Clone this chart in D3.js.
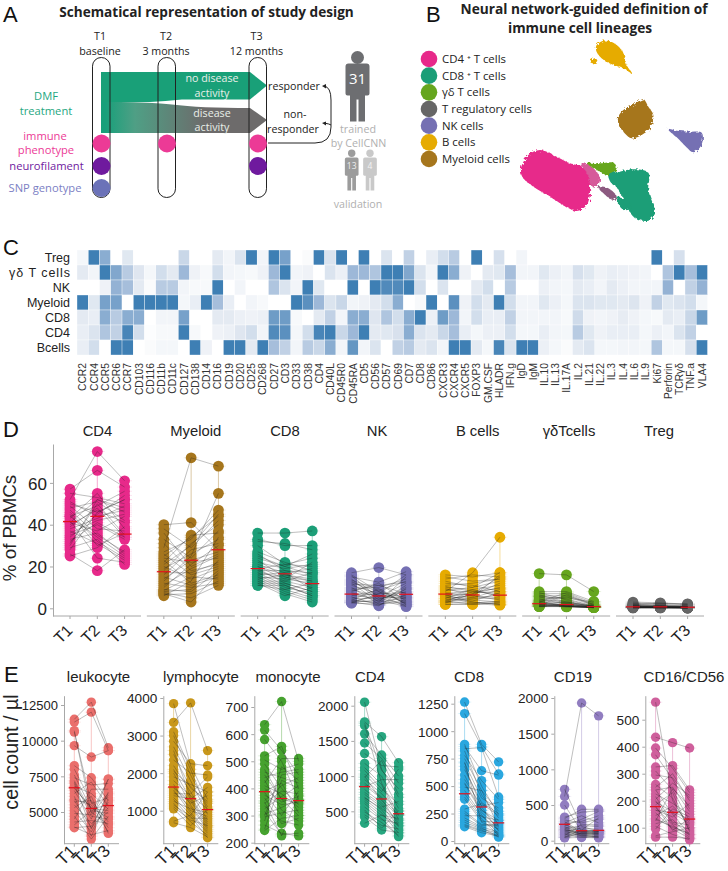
<!DOCTYPE html>
<html><head><meta charset="utf-8">
<script src="https://cdn.jsdelivr.net/npm/d3@7/dist/d3.min.js"></script>
<style>html,body{margin:0;padding:0;background:#fff}svg{display:block}</style>
</head><body><svg id="c" width="728" height="871"></svg>
<script>
// ---------- heatmap data (panel C)
const markers=["CCR2","CCR4","CCR5","CCR6","CCR7","CD103","CD116","CD11b","CD11c","CD127","CD138","CD14","CD16","CD19","CD20","CD25","CD268","CD27","CD3","CD33","CD38","CD4","CD40L","CD45R0","CD45RA","CD5","CD56","CD57","CD69","CD7","CD8","CD86","CXCR3","CXCR4","CXCR5","FOXP3","GM.CSF","HLADR","IFN.g","IgD","IgM","IL.10","IL.13","IL.17A","IL.2","IL.21","IL.22","IL.3","IL.4","IL.6","IL.9","Ki67","Perforin","TCRγδ","TNF.a","VLA4"];
const rowNames=["Treg","γδ T cells","NK","Myeloid","CD8","CD4","Bcells"];
const hTreg=[.04,1,.6,0,.12,0,0,0,0,.25,0,0,.1,.05,.15,1,.05,1,.7,0,.02,1,.15,1,0,1,0,.15,0,.3,0,.08,.2,.35,0,1,0,.18,0,.05,0,0,0,0,0,0,0,0,0,0,0,1,0,.18,0,0];
const hGD=[.1,.05,1,.65,.35,.13,.04,.2,.1,.5,.06,.03,.2,.05,.04,.03,.06,.5,1,.05,.06,0,.15,.07,.5,.5,.4,1,1,.65,.15,.05,1,.6,.06,0,.1,.12,.45,.05,.05,.12,.07,.05,.18,.12,.06,.08,.07,.06,.05,0,.4,1,.45,1];
const hNK=[0,0,.06,.55,.45,.1,.02,.35,.35,.05,.03,.03,1,0,.05,0,0,.4,.15,.05,1,.12,0,0,1,0,1,.9,.9,1,.2,0,.15,0,0,.1,.2,0,.35,0,0,.07,.05,.04,.1,.08,.05,.1,.07,.05,.05,.05,.55,0,.3,.55];
const hMye=[1,.12,.7,.7,0,1,1,1,1,.04,.08,1,.45,.08,0,.05,.03,0,0,1,.85,.5,.15,.25,.05,.06,.1,.2,.6,0,.03,1,0,.85,.06,.2,.1,1,.2,.05,.05,.12,.07,.04,.15,.15,.12,.12,.1,.14,.06,.3,.12,.15,.2,.04];
const hCD8=[.1,.08,.6,.35,.6,.6,0,.05,.05,.7,0,0,.1,.1,.07,.06,.07,.75,.75,.03,0,.1,.3,.05,.6,.6,.13,.4,.2,.6,1,.07,.75,.5,.05,.2,.08,.08,.3,.05,.05,.05,.05,.03,.22,.06,.05,.06,.09,.06,.04,.03,.1,.08,.25,.75];
const hCD4=[.08,.15,.4,.3,.95,.2,.01,.03,.03,1,.03,0,.06,.07,.13,.2,.05,.9,.85,.04,.2,.95,1,.25,.5,1,.1,.12,.17,.6,.15,.1,.25,.45,.08,.04,.07,.07,.2,.04,.04,.08,.05,.04,.35,.12,.06,.08,.08,.08,.04,.07,.05,.15,.3,0];
const hB=[.08,.2,0,1,1,0,.02,.04,.04,0,1,.06,0,1,1,.1,1,.45,.3,.05,.35,.25,.6,.05,.8,.05,.15,0,.3,.35,.1,.15,.05,1,1,.1,.04,.95,.15,1,1,.07,.04,.02,.1,.15,.04,.04,.05,.05,.04,.4,.04,.04,.18,1];
// ---------- panel D: % of PBMCs, [T1,T2,T3], one entry per patient
const pctCD4=[[57,52,55,48,51,44,47,41,45,39,50,36,43,46,34,42,31,38,33,40,29,35,26,37,30,49,25,44,32,28,41],[66,75,53,51,44,49,35,52,30,48,46,42,55,32,45,24,50,43,36,47,33,40,18,31,52,38,29,34,41,46,37],[58,61,50,42,47,56,27,48,36,34,52,45,38,24,54,22,35,49,26,41,21,33,28,23,46,37,39,25,34,52,44]];
const pctMye=[[38,40,36,33,31,29,27,26,25,24,23,21,20,19,18,17,16,15,14,13,12,11,10,9,8.5,8,7.5,7,6,6.5,22],[29,41,20,24,18,72,33,16,34,22,12,30,14,26,31,17,28,11,23,25,10,19,21,8,15,9,5,3,13,7,35],[42,28,26,37,21,68,47,20,44,24,16,45,19,33,40,22,31,15,27,55,12,25,30,18,14,23,11,17,34,13,36]];
const pctCD8=[[36,33,32,30,27,26,24,23,22,21,20,20,19,19,18,18,17,17,16,16,15,15,14,14,13,13,12,12,11,11,25],[36,30,31,21,22,18,20,15,19,17,16,14,21,12,18,13,15,11,17,10,14,9,16,8,13,7,12,6,11,9,20],[37,30,28,20,18,17,16,13,21,9,14,12,24,8,15,10,11,6,19,7,22,5,13,4,17,3,8,10,6,12,26]];
const pctNK=[[17,16,15.5,15,14,13.5,13,12,11.5,11,10,9.5,9,8,7.5,7,6.5,6,5.5,5,4.5,4,3.8,3.5,3.2,3,2.8,2.6,2.5,8.5,12.5],[19.5,8,5,12.5,4,9,6,3,11,7,2,10,5.5,12,3.5,6.5,4.5,8.5,1.5,7.5,5,2.5,9.5,3,6,1.2,4,7,2,11,8],[16,3,1.5,17.5,9,2,6,5,7,16,4,14,12,3.5,10,1,8,13,6.5,2.5,5.5,11,1.8,15,4.5,9.5,.8,7.5,3,12.5,5]];
const pctB=[[16,15,14,13,12,10.5,10,9.5,9,8.5,8,7.5,7,7,6.5,6,6,5.5,5,4.8,4.5,4,3.8,3.5,3.2,3,2.8,2.5,2,1.8,11],[15,13,16,10,11,8,9,6,7.5,10,17,6,5,8.5,3,4,7,2.5,5.5,9,3.5,6.5,4.5,2,8,5,3,7,1.8,2.2,12],[17,14,15,17,8,7,11,5,8,13,34,4,9,6,2,3,10,3.5,16,5.5,7.5,12,6.5,2.5,9.5,4.5,1.8,15,3,1.5,14]];
const pctGD=[[16.6,8,7.5,7,6.5,6,5.5,5,4.5,4,3.8,3.5,3.2,3,2.8,2.5,2.2,2,1.8,1.6,1.4,1.2,1,.9,.8,.8,1.1,1.5,2.1,2.6,5.8],[16,8,4,7,3,6,2.5,5,2,5.5,3.5,1,2.8,7.5,1.5,1.2,3,1,2.2,.8,1.8,.7,2,1.4,1,.8,1.6,6.5,.9,1.1,4.5],[8,3.3,1,1.8,.8,2,.6,3,.5,1.5,.7,.4,1.2,2.5,.6,.5,.9,.4,1,.3,.7,.4,.8,.5,.3,.4,.6,1.4,.5,.3,1.1]];
const pctTreg=[[3,2.5,2.2,2,1.8,1.6,1.4,1.2,1,.9,.8,.7,.7,.6,.6,.5,.5,.4,.4,.3,.3,.3,.2,.2,.9,1.1,.5,.6,.4,.8,1.3],[2.6,2.2,2.4,1.5,1.3,1.7,1.1,.9,.7,.8,.9,.6,.5,.7,.4,.6,.3,.5,.3,.4,.2,.3,.3,.2,.7,1,.4,.5,.3,.6,1],[2,1.8,2.1,1.2,.9,1.4,.8,.7,.5,.6,.7,.4,.4,.5,.3,.5,.2,.4,.2,.3,.2,.2,.1,.2,.5,.8,.3,.4,.2,.5,.6]];
const medD={CD4:[41.5,44,35.5],Myeloid:[17.5,23,28],CD8:[19,16.5,11.8],NK:[6.8,5.9,6.7],"B cells":[6.8,6.4,6.3],"γδTcells":[2.2,1.8,.8],Treg:[.7,.7,.5]};
// ---------- panel E: cell count / µl
const cntLeuko=[[11500,11300,10700,10600,9650,8250,8000,7600,7400,7200,7000,6800,6650,6500,6300,6100,5900,5700,5500,5300,5100,4900,4700,4500,4300,4100,3950,3900,6700,7100,5800],[12700,12000,4900,5600,8850,7400,5700,5200,6900,5000,3800,6300,5300,4500,7100,3300,5500,5800,4200,6100,3600,4800,3100,6600,4400,5100,3400,4000,5250,4700,3900],[9500,9300,7300,6000,9300,5800,3900,5500,7000,4100,6400,5200,4600,7300,5400,5900,3600,4300,5000,3500,5700,6300,4700,6600,4200,4900,3700,6200,5100,4500,5300]];
const cntLympho=[[3850,3350,3100,3000,2850,2700,2600,2500,2350,2200,2100,2000,1900,1800,1700,1620,1550,1500,1450,1400,1350,1300,1250,1200,1150,1100,1050,720,680,1600,2050],[2200,3870,2100,1950,2250,1800,1350,1600,2000,1500,1300,1150,1700,1400,1000,1250,950,1100,1450,1320,900,800,1050,700,850,750,600,880,550,1200,1650],[1300,2600,1000,1100,2200,900,700,1250,1950,750,650,550,1500,1050,850,600,450,500,1900,1620,400,800,950,350,280,600,1030,1500,300,1400,1200]];
const cntMono=[[635,615,580,520,505,490,460,450,440,430,420,410,400,390,385,375,365,355,345,335,325,315,305,295,280,265,250,245,470,350,300],[720,540,500,555,470,400,440,360,460,320,510,380,350,420,300,340,270,410,390,280,370,230,330,310,480,235,430,290,360,225,450],[500,450,360,400,490,340,420,300,470,280,510,330,370,310,390,350,290,440,380,265,410,235,360,320,430,225,400,300,345,375,460]];
const cntCD4=[[2050,1770,1720,1600,1470,1320,1180,1120,1080,1030,980,950,900,870,850,810,770,740,700,670,640,610,560,520,490,450,420,330,1750,1000,690],[1100,1560,900,1300,1250,1150,1000,880,820,780,1220,750,700,680,950,620,590,560,520,480,440,400,380,260,340,300,235,450,1080,650,540],[700,1190,450,1000,900,1130,540,380,600,1100,740,500,450,300,950,340,280,640,230,190,400,140,330,510,160,250,200,300,820,440,370]];
const cntCD8=[[1265,1160,880,860,840,820,780,750,710,680,650,600,560,520,490,460,430,400,380,290,270,250,230,210,190,170,150,140,130,720,530],[880,860,500,640,850,420,550,460,390,310,350,280,320,260,460,240,220,200,180,340,150,140,230,130,120,110,100,90,75,170,280],[720,610,240,600,400,210,380,130,300,90,250,160,350,120,270,60,190,50,170,230,150,140,100,80,40,70,35,55,45,110,190]];
const cntCD19=[[720,620,500,330,310,290,270,250,235,220,210,200,190,180,170,160,150,140,130,120,110,100,90,80,70,60,50,45,40,240,150],[200,1930,130,400,440,250,120,350,110,160,300,90,140,70,210,100,130,60,180,120,80,140,50,100,230,70,150,110,45,270,90],[130,1750,120,420,440,300,110,250,100,130,410,90,140,60,200,110,120,70,160,130,50,140,45,90,220,60,320,100,40,350,80]];
const cntCD16=[[565,435,395,370,325,310,295,260,250,240,225,215,205,195,185,175,165,155,145,135,125,115,105,95,70,65,240,200,165,130,180],[200,415,320,280,330,240,285,210,300,150,190,120,265,160,230,110,140,95,180,100,245,130,75,170,85,65,250,115,155,105,90],[100,395,230,170,240,125,210,90,200,75,150,110,220,130,85,65,190,60,120,80,180,70,55,140,100,60,160,95,115,75,135]];
const medE={leukocyte:[6700,5250,5450],lymphocyte:[1630,1320,1030],monocyte:[388,363,355],CD4:[850,675,465],CD8:[430,310,165],CD19:[230,140,145],"CD16/CD56":[178,157,132]};
const times=["T1","T2","T3"];
// ---------- panel B data
const legendNames=["CD4 ⁺ T cells","CD8 ⁺ T cells","γδ  T cells","T regulatory cells","NK cells","B cells","Myeloid cells"];
const legendCols=["#e7298a","#1b9e77","#66a61e","#666666","#7570b3","#e6ab02","#a6761d"];
const umapBlobs=[
 {c:"#e6ab02",p:[[590,135],[610,122],[640,128],[665,150],[674,170],[680,195],[695,220],[675,208],[650,198],[625,188],[600,170],[588,150]]},
 {c:"#e6ab02",p:[[570,185],[585,175],[592,182],[580,190]]},
 {c:"#a6761d",p:[[655,350],[670,330],[700,315],[730,298],[745,320],[760,345],[750,385],[725,405],[695,415],[670,395],[655,370]]},
 {c:"#7570b3",p:[[803,387],[830,392],[870,395],[905,398],[908,422],[898,445],[880,457],[858,440],[830,412]]},
 {c:"#d65a9a",p:[[545,490],[575,500],[600,535],[590,560],[570,555],[555,520]]},
 {c:"#1b9e77",p:[[640,530],[680,510],[745,518],[745,570],[765,640],[745,662],[700,650],[680,610],[655,570]]},
 {c:"#e7298a",p:[[362,510],[385,465],[420,450],[470,470],[510,490],[545,500],[565,530],[570,580],[560,615],[530,633],[490,615],[450,590],[400,560],[370,535]]},
 {c:"#66a61e",p:[[560,490],[600,490],[640,488],[650,505],[625,525],[590,510]]},
 {c:"#8c5a80",p:[[595,560],[625,565],[650,590],[640,600],[610,580]]},
 {c:"#1b9e77",p:[[650,590],[680,600],[695,625],[670,630],[655,610]]},
 {c:"#1b9e77",p:[[625,525],[650,515],[660,550],[640,555]]}
];
// ---------- drawing
const AX='"Liberation Sans",Arial,sans-serif', OS='"Open Sans",sans-serif';
const svg=d3.select("#c");
function txt(g,x,y,s,o={}){const t=g.append("text").attr("x",x).attr("y",y).text(s)
 .attr("font-family",o.f||OS).attr("font-size",o.s||12).attr("fill",o.c||"#222")
 .attr("text-anchor",o.a||"middle").attr("font-weight",o.w||"normal");
 if(o.r!==undefined)t.attr("transform",`rotate(${o.r} ${x} ${y})`);return t;}
// panel letters
[["A",3,22],["B",426,22],["C",3,255],["D",3,437],["E",4,682]].forEach(d=>txt(svg,d[1],d[2],d[0],{a:"start",s:22,c:"#111",f:AX}));
// ---- Panel A
const A=svg.append("g");
txt(A,206.5,16.5,"Schematical representation of study design",{s:13.6,w:"bold",c:"#222"});
const defs=svg.append("defs");
const gr=defs.append("linearGradient").attr("id","gg").attr("gradientUnits","userSpaceOnUse").attr("x1",105).attr("x2",205).attr("y1",0).attr("y2",0);
gr.append("stop").attr("offset",0).attr("stop-color","#17a07a");gr.append("stop").attr("offset",.3).attr("stop-color","#4f9f85");gr.append("stop").attr("offset",1).attr("stop-color","#6d6b6b");
const fl=defs.append("filter").attr("id","rough").attr("x","-10%").attr("y","-10%").attr("width","120%").attr("height","120%");
fl.append("feTurbulence").attr("type","fractalNoise").attr("baseFrequency",.4).attr("numOctaves",2).attr("seed",4).attr("result","n");
fl.append("feDisplacementMap").attr("in","SourceGraphic").attr("in2","n").attr("scale",5);
A.append("path").attr("d","M101,72H250L267,85.5L250,99.5H182Q165,101 150,102H101Z").attr("fill","#19a078");
A.append("path").attr("d","M101,102H120Q150,102 172,104.5Q200,108 250,108L267,120L250,133H101Z").attr("fill","url(#gg)");
[[92.5,17.5],[158,17.5],[249,17.5]].forEach(c=>A.append("rect").attr("x",c[0]).attr("y",57.5).attr("width",c[1]).attr("height",140).attr("rx",8.7).attr("fill","none").attr("stroke","#222").attr("stroke-width",1));
[[101.5,143.5,"#ec3a96"],[101.5,166,"#6f1a9e"],[101.5,188,"#6b72b8"],[167,143.5,"#ec3a96"],[258,143.5,"#ec3a96"],[258,166,"#6f1a9e"]].forEach(c=>A.append("circle").attr("cx",c[0]).attr("cy",c[1]).attr("r",9).attr("fill",c[2]));
[[100,40,"T1"],[100,55,"baseline"],[166,40,"T2"],[166,55,"3 months"],[256.5,40,"T3"],[256.5,55,"12 months"]].forEach(d=>txt(A,d[0],d[1],d[2],{s:10.7,c:"#222"}));
[[46,100,"DMF","#1fa77f"],[46,115,"treatment","#1fa77f"],[45,140,"immune","#ec3a96"],[46,154,"phenotype","#ec3a96"],[46.5,170,"neurofilament","#6f1a9e"],[45,192,"SNP genotype","#7c80c4"]].forEach(d=>txt(A,d[0],d[1],d[2],{s:11.2,c:d[3]}));
[[212,82,"no disease"],[212,97,"activity"],[212,117,"disease"],[212,131,"activity"]].forEach(d=>txt(A,d[0],d[1],d[2],{s:10.7,c:"#e9efe9"}));
[[294,90,"responder"],[295,118,"non-"],[293,133,"responder"]].forEach(d=>txt(A,d[0],d[1],d[2],{s:10.7,c:"#222"}));
A.append("path").attr("d","M268,143H315Q331,143 331,127V100Q331,87 324,86M331,125Q330,124 324,123").attr("fill","none").attr("stroke","#222").attr("stroke-width",1);
A.append("path").attr("d","M322,86L326,84L326,88.5ZM322,123L326,121.5L326,125.5Z").attr("fill","#222");
function person(x,top,k,col,hy,hr){A.append("circle").attr("cx",x).attr("cy",hy).attr("r",hr).attr("fill",col);
 A.append("path").attr("transform",`translate(${x},${top}) scale(${k})`).attr("d","M-12,3Q-12,0 -9,0H9Q12,0 12,3V30Q12,32 10,32H7.5V58H1V36H-1V58H-7.5V32H-10Q-12,32 -12,30Z").attr("fill",col);}
person(357.5,63.5,1,"#6d6e71",57.5,6.5);person(351.7,157.5,.57,"#9c9c9c",153.3,3.7);person(370,157.5,.57,"#c9c9c9",153.3,3.7);
txt(A,357.5,84,"31",{s:15,c:"#fff"});txt(A,351.7,169,"13",{s:8.5,c:"#eee"});txt(A,370,169,"4",{s:8.5,c:"#f4f4f4"});
[[358,133,"trained"],[358.5,147,"by CellCNN"],[358,208,"validation"]].forEach(d=>txt(A,d[0],d[1],d[2],{s:10.7,c:"#b0b0b0"}));
// ---- Panel B
const B=svg.append("g");
txt(B,584,14,"Neural network-guided definition of",{s:13.7,w:"bold",c:"#222"});
txt(B,580,33,"immune cell lineages",{s:13.7,w:"bold",c:"#222"});
const legY=d3.scalePoint().domain(legendNames).range([59,159]);
legendNames.forEach((n,i)=>{B.append("circle").attr("cx",429).attr("cy",legY(n)).attr("r",8.3).attr("fill",legendCols[i]);
 txt(B,442,legY(n)+4,n,{a:"start",s:11.4,c:"#222"});});
const ux=d3.scaleLinear().domain([0,328*3]).range([400,728]),uy=d3.scaleLinear().domain([0,230*3]).range([0,230]);
const blob=d3.line().x(d=>ux(d[0])).y(d=>uy(d[1])).curve(d3.curveCatmullRomClosed.alpha(.5));
B.append("g").attr("filter","url(#rough)").selectAll("path").data(umapBlobs).join("path").attr("d",d=>blob(d.p)).attr("fill",d=>d.c);
// ---- Panel C
const C=svg.append("g");
const hRows=[hTreg,hGD,hNK,hMye,hCD8,hCD4,hB];
const hx=d3.scaleBand().domain(markers).range([77,707.5]);
const hy=d3.scaleBand().domain(rowNames).range([250,355]);
const hc=d3.scaleLinear().domain([0,.1,.5,1]).range(["#ffffff","#e4eaf2","#9db8d8","#3e7fb4"]);
rowNames.forEach((r,i)=>{markers.forEach((m,j)=>{C.append("rect").attr("x",hx(m)).attr("y",hy(r)).attr("width",hx.bandwidth()).attr("height",hy.bandwidth())
  .attr("fill",hc(hRows[i][j])).attr("stroke","#fff").attr("stroke-width",.35);});
 const t=txt(C,70,hy(r)+hy.bandwidth()/2+4.3,r,{a:"end",s:12.5,c:"#222",f:AX});
 if(r[0]==="γ")t.attr("textLength",61).attr("lengthAdjust","spacing");});
markers.forEach(m=>{txt(C,hx(m)+hx.bandwidth()/2+3.7,363,m,{a:"end",s:10.3,c:"#333",f:AX,r:-90});});
// ---- small-multiples helper
function panel(g,o){
 const y=o.y, xs=o.xs, pts=o.vals, col=o.col, r=o.r;
 g.append("g").attr("transform",`translate(${o.ax},0)`).call(d3.axisLeft(y).tickValues(o.ticks).tickSize(o.tick).tickSizeOuter(0).tickFormat(d3.format("d")))
  .call(a=>{a.select(".domain").attr("stroke","#a8a8a8").attr("stroke-width",1);a.selectAll("line").attr("stroke","#a8a8a8");
   a.selectAll("text").attr("font-family",AX).attr("font-size",o.fs).attr("fill","#222").attr("dy","0.36em");});
 g.append("line").attr("x1",o.ax).attr("x2",o.ax+o.w).attr("y1",y.range()[0]).attr("y2",y.range()[0]).attr("stroke","#a8a8a8");
 times.forEach((t,i)=>{
  g.append("line").attr("x1",xs(t)).attr("x2",xs(t)).attr("y1",y.range()[0]).attr("y2",y.range()[0]+3).attr("stroke","#a8a8a8");
  txt(g,xs(t)-o.lo,y.range()[0]+o.ld,t,{s:o.ts,c:"#222",f:AX,r:-45});
  g.append("line").attr("x1",xs(t)).attr("x2",xs(t)).attr("y1",y(d3.min(pts[i]))).attr("y2",y(d3.max(pts[i]))).attr("stroke",col).attr("stroke-opacity",.4);
  g.selectAll(null).data(pts[i]).join("line").attr("x1",xs(t)-r-2).attr("x2",xs(t)+r+2).attr("y1",d=>y(d)).attr("y2",d=>y(d)).attr("stroke",col).attr("stroke-opacity",.22).attr("stroke-width",.6);
  g.selectAll(null).data(pts[i]).join("circle").attr("cx",xs(t)).attr("cy",d=>y(d)).attr("r",r).attr("fill",col);
 });
 const ln=d3.line().x((d,i)=>xs(times[i])).y(d=>y(d));
 pts[0].forEach((_,k)=>g.append("path").attr("d",ln(times.map((t,i)=>pts[i][k]))).attr("fill","none").attr("stroke","#1c1c1c").attr("stroke-opacity",.52).attr("stroke-width",.55));
 times.forEach((t,i)=>g.append("line").attr("x1",xs(t)-o.rw).attr("x2",xs(t)+o.rw).attr("y1",y(o.med[i])).attr("y2",y(o.med[i])).attr("stroke","#e3101c").attr("stroke-width",1.2));
}
// ---- Panel D
const D=svg.append("g");
const dY=d3.scaleLinear().domain([-3.68,78.6]).range([616,444]);
const dPanels=[["CD4",pctCD4,"#e7298a",97.5],["Myeloid",pctMye,"#a6761d",195.7],["CD8",pctCD8,"#1b9e77",285],["NK",pctNK,"#7570b3",377],["B cells",pctB,"#e6ab02",477.7],["γδTcells",pctGD,"#66a61e",569],["Treg",pctTreg,"#666666",659]];
const dAx=d3.scalePoint().domain(dPanels.map(d=>d[0])).range([53,616]);
dPanels.forEach(p=>{const x0=dAx(p[0]);
 const xs=d3.scalePoint().domain(times).range([x0+17,x0+71.6]);
 const g=D.append("g"), first=p[0]==="CD4";
 panel(g,{y:dY,xs,vals:p[1],col:p[2],r:5.4,ax:x0,w:88,ticks:first?[0,20,40,60]:[],tick:first?3:0,fs:17,lo:3,ld:22,ts:16,rw:7,med:medD[p[0]]});
 if(!first)g.select(".domain").remove();
 txt(g,p[3],436,p[0],{s:14.8,c:"#222",f:AX});});
txt(D,16,528,"% of PBMCs",{s:18.8,c:"#222",f:AX,r:-90});
// ---- Panel E
const E=svg.append("g");
const ePanels=[
 {n:"leukocyte",v:cntLeuko,c:"#ea6f6c",tx:98.5,ax:64,t:[5000,7500,10000,12500],cal:[5000,812,12500,705],fs:13},
 {n:"lymphocyte",v:cntLympho,c:"#c8971a",tx:201,ax:163.3,t:[1000,2000,3000,4000],cal:[1000,810.7,4000,698],fs:13.6},
 {n:"monocyte",v:cntMono,c:"#46a22f",tx:288,ax:254.3,t:[200,300,400,500,600,700],cal:[200,842.7,700,707],fs:13.6},
 {n:"CD4",v:cntCD4,c:"#27a67f",tx:370,ax:354.3,t:[500,1000,1500,2000],cal:[500,811.3,2000,705.7],fs:13.6},
 {n:"CD8",v:cntCD8,c:"#2aa7df",tx:469,ax:454.3,t:[0,250,500,750,1000,1250],cal:[0,841,1250,703.7],fs:13.6},
 {n:"CD19",v:cntCD19,c:"#917dc0",tx:573,ax:554.3,t:[0,500,1000,1500,2000],cal:[0,840.7,2000,698],fs:13.6},
 {n:"CD16/CD56",v:cntCD16,c:"#cf5f9c",tx:684,ax:645.3,t:[100,200,300,400,500],cal:[100,827.7,500,719.7],fs:13.6}
];
ePanels.forEach(p=>{const cal=d3.scaleLinear().domain([p.cal[0],p.cal[2]]).range([p.cal[1],p.cal[3]]);
 const y=d3.scaleLinear().domain([cal.invert(843.7),cal.invert(695.7)]).range([843.7,695.7]);
 const xs=d3.scalePoint().domain(times).range([p.ax+10.3,p.ax+44.3]);
 const g=E.append("g");
 panel(g,{y,xs,vals:p.v,col:p.c,r:4.7,ax:p.ax,w:55,ticks:p.t,tick:3,fs:p.fs,lo:4,ld:15.5,ts:17,rw:5.6,med:medE[p.n]});
 txt(g,p.tx,682,p.n,{s:15,c:"#222",f:AX});});
txt(E,17.5,752,"cell count / µl",{s:19.7,c:"#222",f:AX,r:-90});
</script></body></html>
